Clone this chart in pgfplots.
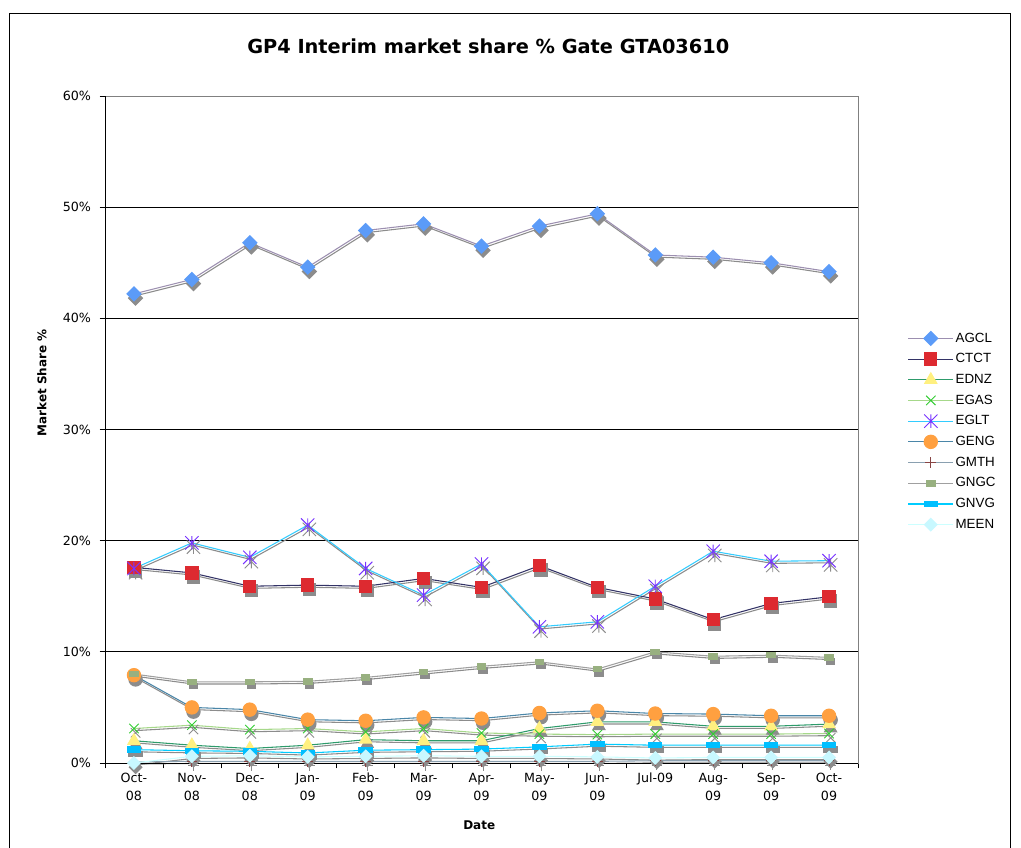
\documentclass[border=0pt]{standalone}
\usepackage{pgfplots}
\pgfplotsset{compat=1.18}
\usepackage{pgfplotstable}
\usepackage{fontspec}
\setmainfont{DejaVu Sans}
\newfontfamily\legfont{Liberation Sans}

\definecolor{agclL}{HTML}{9C8FB0}\definecolor{agclM}{HTML}{5B9BF8}
\definecolor{ctctL}{HTML}{333366}\definecolor{ctctM}{HTML}{DD2A30}
\definecolor{ednzL}{HTML}{2E9B6B}\definecolor{ednzM}{HTML}{FFF080}
\definecolor{egasL}{HTML}{A6D88A}\definecolor{egasM}{HTML}{33CC33}
\definecolor{egltL}{HTML}{33CCFF}\definecolor{egltM}{HTML}{7733FF}
\definecolor{gengL}{HTML}{4A86A8}\definecolor{gengM}{HTML}{FFA040}
\definecolor{gmthL}{HTML}{8AA0B0}\definecolor{gmthM}{HTML}{884444}
\definecolor{gngcL}{HTML}{A0A0A0}\definecolor{gngcM}{HTML}{98B080}
\definecolor{gnvgL}{HTML}{00CCFF}\definecolor{gnvgM}{HTML}{00BFFF}
\definecolor{meenL}{HTML}{CCFFFF}\definecolor{meenM}{HTML}{C8F8FF}
\definecolor{shadowc}{HTML}{8C8C8C}

\pgfdeclareplotmark{xstar}{%
  \pgfpathmoveto{\pgfqpoint{-\pgfplotmarksize}{-\pgfplotmarksize}}%
  \pgfpathlineto{\pgfqpoint{\pgfplotmarksize}{\pgfplotmarksize}}%
  \pgfpathmoveto{\pgfqpoint{-\pgfplotmarksize}{\pgfplotmarksize}}%
  \pgfpathlineto{\pgfqpoint{\pgfplotmarksize}{-\pgfplotmarksize}}%
  \pgfpathmoveto{\pgfqpoint{0pt}{-\pgfplotmarksize}}%
  \pgfpathlineto{\pgfqpoint{0pt}{\pgfplotmarksize}}%
  \pgfusepathqstroke}
\pgfdeclareplotmark{wrect}{%
  \pgfpathrectangle{\pgfqpoint{-\pgfplotmarksize}{-.4\pgfplotmarksize}}{\pgfqpoint{2\pgfplotmarksize}{.8\pgfplotmarksize}}%
  \pgfusepathqfillstroke}

\pgfplotstableread{
x AGCL CTCT EDNZ EGAS EGLT GENG GMTH GNGC GNVG MEEN
0 42.2 17.6 2.0 3.1 17.5 7.9 0.1 8.0 1.2 0.0
1 43.5 17.1 1.6 3.4 19.8 5.0 0.15 7.3 1.1 0.6
2 46.8 15.9 1.3 3.0 18.5 4.8 0.15 7.3 1.05 0.65
3 44.6 16.0 1.6 3.1 21.4 3.9 0.15 7.35 0.9 0.55
4 47.9 15.9 2.1 2.8 17.5 3.8 0.15 7.7 1.15 0.6
5 48.5 16.6 2.0 3.1 15.1 4.1 0.15 8.2 1.2 0.65
6 46.5 15.8 2.0 2.7 17.9 4.0 0.15 8.7 1.25 0.6
7 48.3 17.75 3.1 2.6 12.25 4.5 0.15 9.1 1.45 0.6
8 49.4 15.8 3.7 2.55 12.7 4.7 0.15 8.45 1.7 0.55
9 45.7 14.75 3.7 2.6 15.9 4.45 0.2 10.0 1.6 0.45
10 45.5 12.9 3.3 2.6 19.05 4.4 0.2 9.6 1.6 0.5
11 45.0 14.35 3.3 2.6 18.15 4.25 0.2 9.7 1.6 0.5
12 44.2 14.95 3.5 2.65 18.2 4.25 0.2 9.5 1.6 0.5
}\data

\pgfplotsset{
  base/.style={line width=0.8pt, solid},
  sAGCL/.style={base, color=agclL, mark=square*, mark size=3.7pt, mark options={rotate=45, draw=agclM, fill=agclM, solid}},
  sCTCT/.style={base, color=ctctL, mark=square*, mark size=4.6pt, mark options={draw=ctctM, fill=ctctM, solid}},
  sEDNZ/.style={base, color=ednzL, mark=triangle*, mark size=5.2pt, mark options={draw=ednzM, fill=ednzM, solid}},
  sEGAS/.style={base, color=egasL, mark=x, mark size=5pt, mark options={draw=egasM, line width=0.7pt, solid}},
  sEGLT/.style={base, color=egltL, mark=xstar, mark size=5pt, mark options={draw=egltM, line width=0.7pt, solid}},
  sGENG/.style={base, color=gengL, mark=*, mark size=5pt, mark options={draw=gengM, fill=gengM, solid}},
  sGMTH/.style={base, color=gmthL, mark=+, mark size=4pt, mark options={draw=gmthM, line width=0.6pt, solid}},
  sGNGC/.style={base, color=gngcL, mark=wrect, mark size=3.2pt, mark options={yscale=1.6, draw=gngcM, fill=gngcM, solid}},
  sGNVG/.style={base, color=gnvgL, mark=wrect, mark size=5pt, mark options={draw=gnvgM, fill=gnvgM, solid}},
  sMEEN/.style={base, color=meenL, mark=square*, mark size=3.3pt, mark options={rotate=45, draw=meenM, fill=meenM, solid}},
  shadowed/.style={draw=shadowc, every mark/.append style={draw=shadowc, fill=shadowc}, transform canvas={shift={(0.6pt,-1.6pt)}}, forget plot},
}

\begin{document}
\begin{tikzpicture}
\path[use as bounding box] (0,0) rectangle (765.75pt,636pt);
\draw[black, line width=0.6pt] (7pt,-5pt) rectangle (757.5pt,626.25pt);
\begin{axis}[
  at={(78.75pt,63.75pt)}, anchor=south west,
  width=564.75pt, height=500.25pt, scale only axis,
  xmin=-0.5, xmax=12.5, ymin=0, ymax=60,
  xtick pos=bottom, ytick pos=left,
  xtick={0,...,12},
  xticklabels={{Oct-\\08},{Nov-\\08},{Dec-\\08},{Jan-\\09},{Feb-\\09},{Mar-\\09},{Apr-\\09},{May-\\09},{Jun-\\09},{Jul-09},{Aug-\\09},{Sep-\\09},{Oct-\\09}},
  xticklabel style={align=center, font=\fontsize{9.5}{13.5}\selectfont, anchor=north},
  minor xtick={-0.5,0.5,...,12.5},
  major x tick style={draw=none},
  minor x tick style={black, line width=0.5pt},
  tick align=outside, major tick length=4pt, minor tick length=4pt,
  ytick={0,10,...,60},
  yticklabels={0\%,10\%,20\%,30\%,40\%,50\%,60\%},
  yticklabel style={font=\fontsize{9.5}{11}\selectfont, xshift=-3pt},
  y tick style={black, line width=0.5pt},
  ymajorgrids, major grid style={black, line width=0.5pt},
  axis line style={gray, line width=0.6pt},
  title={GP4 Interim market share \% Gate GTA03610},
  title style={font=\bfseries\fontsize{14.5}{16}\selectfont, at={(axis description cs:0.509,1.0625)}, anchor=center},
  xlabel={Date},
  xlabel style={font=\bfseries\fontsize{9}{11}\selectfont, at={(axis description cs:0.497,-0.093)}, anchor=center},
  ylabel={Market Share \%},
  ylabel style={font=\bfseries\fontsize{9}{11}\selectfont, at={(axis description cs:-0.0837,0.57)}, anchor=center, rotate=0},
  legend style={at={(axis description cs:1,0.497)}, anchor=west, xshift=37pt, draw=none, fill=none,
    font=\legfont\fontsize{10}{11}\selectfont, row sep=4.65pt, inner sep=0pt,
    nodes={inner sep=1.2pt}},
  legend cell align=left,
  legend image code/.code={\draw[mark repeat=2,mark phase=2,#1] plot coordinates {(0pt,0pt) (17pt,0pt) (34pt,0pt)};},
  clip=false,
]
% shadows
\addplot[sAGCL, shadowed] table[x=x,y=AGCL]{\data};
\addplot[sCTCT, shadowed] table[x=x,y=CTCT]{\data};
\addplot[sEDNZ, shadowed] table[x=x,y=EDNZ]{\data};
\addplot[sEGAS, shadowed] table[x=x,y=EGAS]{\data};
\addplot[sEGLT, shadowed] table[x=x,y=EGLT]{\data};
\addplot[sGENG, shadowed] table[x=x,y=GENG]{\data};
\addplot[sGMTH, shadowed] table[x=x,y=GMTH]{\data};
\addplot[sGNGC, shadowed] table[x=x,y=GNGC]{\data};
\addplot[sGNVG, shadowed] table[x=x,y=GNVG]{\data};
\addplot[sMEEN, shadowed] table[x=x,y=MEEN]{\data};
% series
\addplot[sAGCL] table[x=x,y=AGCL]{\data};
\addplot[sCTCT] table[x=x,y=CTCT]{\data};
\addplot[sEDNZ] table[x=x,y=EDNZ]{\data};
\addplot[sEGAS] table[x=x,y=EGAS]{\data};
\addplot[sEGLT] table[x=x,y=EGLT]{\data};
\addplot[sGENG] table[x=x,y=GENG]{\data};
\addplot[sGMTH] table[x=x,y=GMTH]{\data};
\addplot[sGNGC] table[x=x,y=GNGC]{\data};
\addplot[sGNVG] table[x=x,y=GNVG]{\data};
\addplot[sMEEN] table[x=x,y=MEEN]{\data};
\legend{AGCL,CTCT,EDNZ,EGAS,EGLT,GENG,GMTH,GNGC,GNVG,MEEN}
\draw[black, line width=0.6pt] (rel axis cs:0,0) -- (rel axis cs:0,1);
\draw[black, line width=0.6pt] (rel axis cs:0,0) -- (rel axis cs:1,0);
\end{axis}
\end{tikzpicture}
\end{document}
